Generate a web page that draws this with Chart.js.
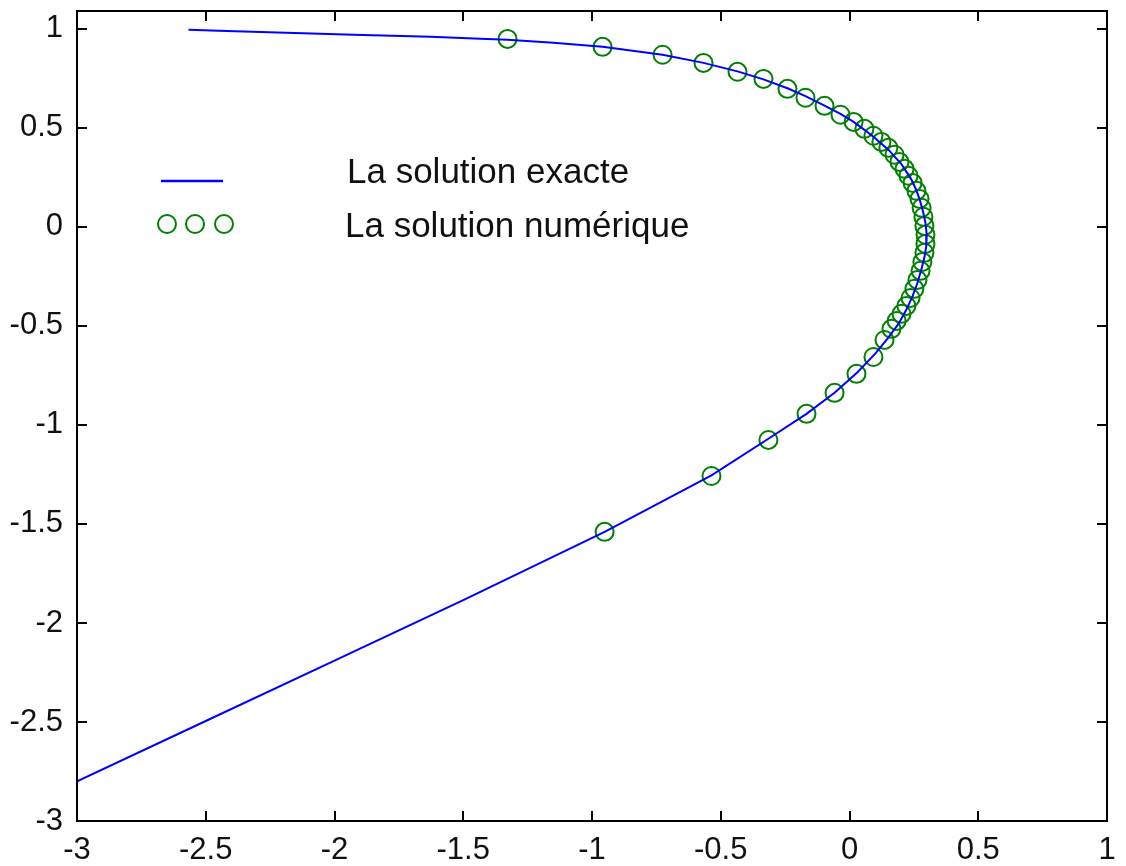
<!DOCTYPE html>
<html>
<head>
<meta charset="utf-8">
<script src="https://cdn.jsdelivr.net/npm/chart.js@4.4.1/dist/chart.umd.min.js"></script>
<style>
  html, body { margin: 0; padding: 0; background: #fff; }
  #wrap { width: 1126px; height: 866px; }
</style>
</head>
<body>
<div id="wrap"><canvas id="graf" width="1126" height="866"></canvas></div>
<script>
// solution exacte (ligne bleue)
const exactX = [-2.567, -2.45, -1.926, -1.627, -1.433, -1.328, -1.15, -0.959, -0.726, -0.567, -0.435, -0.334, -0.241, -0.171, -0.097, -0.035, 0.016, 0.058, 0.093, 0.124, 0.151, 0.175, 0.2, 0.22, 0.24, 0.258, 0.272, 0.285, 0.295, 0.3, 0.298, 0.29, 0.278, 0.262, 0.245, 0.22, 0.19, 0.15, 0.1, 0.03, -0.058, -0.167, -0.315, -0.536, -0.951, -1.5, -2.0, -2.5, -3.0];
const exactY = [0.995, 0.99, 0.97, 0.96, 0.95, 0.945, 0.93, 0.909, 0.869, 0.828, 0.785, 0.745, 0.70, 0.66, 0.612, 0.57, 0.53, 0.49, 0.455, 0.42, 0.39, 0.355, 0.32, 0.28, 0.24, 0.19, 0.14, 0.08, 0.02, -0.04, -0.1, -0.16, -0.22, -0.29, -0.35, -0.42, -0.49, -0.56, -0.64, -0.735, -0.838, -0.944, -1.07, -1.255, -1.54, -1.885, -2.19, -2.495, -2.80];

// solution numérique (cercles verts)
const numX = [-1.328, -0.959, -0.726, -0.567, -0.435, -0.334, -0.241, -0.171, -0.097, -0.035, 0.016, 0.058, 0.093, 0.124, 0.151, 0.175, 0.194, 0.214, 0.229, 0.245, 0.260, 0.272, 0.280, 0.287, 0.291, 0.295, 0.295, 0.291, 0.283, 0.276, 0.264, 0.252, 0.237, 0.221, 0.202, 0.183, 0.163, 0.136, 0.093, 0.027, -0.058, -0.167, -0.315, -0.536, -0.951];
const numY = [0.949, 0.909, 0.869, 0.828, 0.783, 0.747, 0.697, 0.652, 0.611, 0.566, 0.530, 0.495, 0.460, 0.429, 0.399, 0.364, 0.328, 0.293, 0.258, 0.222, 0.182, 0.141, 0.096, 0.051, 0.005, -0.040, -0.086, -0.131, -0.177, -0.222, -0.268, -0.313, -0.359, -0.399, -0.439, -0.475, -0.515, -0.571, -0.657, -0.742, -0.838, -0.944, -1.076, -1.258, -1.540];

const xTicks = [-3, -2.5, -2, -1.5, -1, -0.5, 0, 0.5, 1];
const yTicks = [-3, -2.5, -2, -1.5, -1, -0.5, 0, 0.5, 1];
const legendeTextes = ['La solution exacte', 'La solution numérique'];

const bleu = '#0000ff';
const vert = '#008000';
const police = '"Liberation Sans", Arial, sans-serif';

const toPts = (xs, ys) => xs.map((v, i) => ({ x: v, y: ys[i] }));

// cadre noir + graduations vers l'intérieur sur les 4 côtés
const cadre = {
  id: 'cadre',
  afterDatasetsDraw(chart) {
    const { ctx, chartArea: a, scales } = chart;
    const L = 10;
    ctx.save();
    ctx.strokeStyle = '#000';
    ctx.lineWidth = 2;
    ctx.beginPath();
    scales.x.ticks.forEach(t => {
      const px = Math.round(scales.x.getPixelForValue(t.value));
      ctx.moveTo(px, a.bottom); ctx.lineTo(px, a.bottom - L);
      ctx.moveTo(px, a.top); ctx.lineTo(px, a.top + L);
    });
    scales.y.ticks.forEach(t => {
      const py = Math.round(scales.y.getPixelForValue(t.value));
      ctx.moveTo(a.left, py); ctx.lineTo(a.left + L, py);
      ctx.moveTo(a.right, py); ctx.lineTo(a.right - L, py);
    });
    ctx.stroke();
    ctx.strokeRect(a.left, a.top, a.right - a.left, a.bottom - a.top);
    ctx.restore();
  }
};

// légende à la manière de MATLAB
const legende = {
  id: 'legende',
  afterDraw(chart) {
    const ctx = chart.ctx;
    ctx.save();
    ctx.strokeStyle = bleu;
    ctx.lineWidth = 2.5;
    ctx.beginPath();
    ctx.moveTo(161, 181); ctx.lineTo(223, 181);
    ctx.stroke();
    ctx.strokeStyle = vert;
    ctx.lineWidth = 2;
    [167, 195, 224].forEach(cx => {
      ctx.beginPath();
      ctx.arc(cx, 224, 9, 0, Math.PI * 2);
      ctx.stroke();
    });
    ctx.fillStyle = '#111';
    ctx.font = '35px ' + police;
    ctx.textBaseline = 'alphabetic';
    ctx.fillText(legendeTextes[0], 347, 183);
    ctx.fillText(legendeTextes[1], 345, 237);
    ctx.restore();
  }
};

Chart.defaults.font.family = police;
Chart.defaults.color = '#111';

new Chart(document.getElementById('graf'), {
  type: 'scatter',
  data: {
    datasets: [
      {
        label: legendeTextes[0],
        data: toPts(exactX, exactY),
        showLine: true,
        borderColor: bleu,
        borderWidth: 2,
        pointRadius: 0,
        tension: 0,
        order: 0
      },
      {
        label: legendeTextes[1],
        data: toPts(numX, numY),
        showLine: false,
        pointStyle: 'circle',
        pointRadius: 9,
        pointBorderWidth: 2,
        pointBorderColor: vert,
        pointBackgroundColor: 'rgba(0,0,0,0)',
        order: 1
      }
    ]
  },
  options: {
    responsive: false,
    animation: false,
    layout: { padding: { left: 0, right: 19, top: 10, bottom: 0 } },
    plugins: {
      legend: { display: false },
      tooltip: { enabled: false }
    },
    scales: {
      x: {
        type: 'linear',
        min: -3, max: 1,
        grid: { display: false, drawTicks: false },
        border: { display: false },
        afterBuildTicks: s => { s.ticks = xTicks.map(v => ({ value: v })); },
        afterFit: s => { s.height = 45; s.paddingLeft = 0; s.paddingRight = 0; },
        ticks: { font: { size: 31 }, padding: 11, maxRotation: 0, callback: v => String(v) }
      },
      y: {
        type: 'linear',
        min: -3, max: 1.09,
        grid: { display: false, drawTicks: false },
        border: { display: false },
        afterBuildTicks: s => { s.ticks = yTicks.map(v => ({ value: v })); },
        afterFit: s => { s.width = 77; s.paddingTop = 0; s.paddingBottom = 0; },
        ticks: { font: { size: 31 }, padding: 14, callback: v => String(v) }
      }
    }
  },
  plugins: [cadre, legende]
});
</script>
</body>
</html>
